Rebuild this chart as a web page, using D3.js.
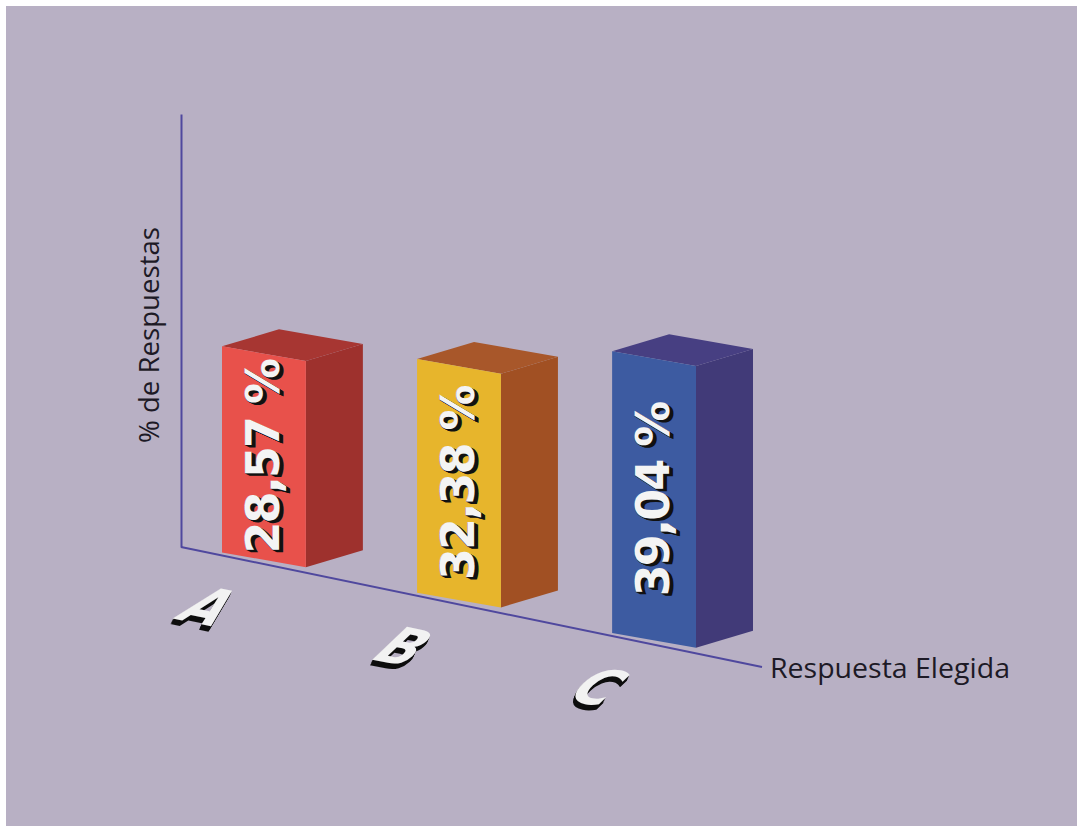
<!DOCTYPE html>
<html>
<head>
<meta charset="utf-8">
<script src="https://cdn.jsdelivr.net/npm/d3@7/dist/d3.min.js"></script>
<style>
  html, body { margin: 0; padding: 0; background: #ffffff; }
  svg { display: block; }
</style>
</head>
<body>
<svg id="chart" width="1083" height="832"></svg>
<script>
// Answer shares per option
const categories = ["A", "B", "C"];
const values = [28.57, 32.38, 39.04];
const valueLabels = ["28,57 %", "32,38 %", "39,04 %"];
const frontColors = ["#e8514b", "#e7b52c", "#3d5ba1"];
const sideColors = ["#9e312d", "#a15023", "#413a78"];
const topColors = ["#a73632", "#a8572a", "#473f82"];
const yTitle = "% de Respuestas";
const xTitle = "Respuesta Elegida";

const W = 1083, H = 832;
const svg = d3.select("#chart");

// canvas with a thin white frame
svg.append("rect").attr("x", 6).attr("y", 6).attr("width", W - 12).attr("height", H - 12)
  .attr("fill", "#b8b0c4");

// axis geometry: vertical axis up from the origin, ground axis slanting to the right
const origin = { x: 181, y: 547 };
const axisEnd = { x: 762, y: 667 };
const groundSlope = (axisEnd.y - origin.y) / (axisEnd.x - origin.x);
const groundY = x => origin.y + (x - origin.x) * groundSlope;

const yScale = d3.scaleLinear().domain([0, 60]).range([origin.y, 114]);
const xBand = d3.scaleBand().domain(categories).range([222, 696]).paddingInner(0.57).paddingOuter(0);

const axisColor = "#4f489e";

// vertical axis (domain line only)
const yAxisG = svg.append("g")
  .attr("transform", `translate(${origin.x},0)`)
  .call(d3.axisLeft(yScale).tickValues([]).tickSizeOuter(0));
yAxisG.select(".domain").attr("stroke", axisColor).attr("stroke-width", 2);

// ground axis
svg.append("line")
  .attr("x1", origin.x).attr("y1", origin.y)
  .attr("x2", axisEnd.x).attr("y2", axisEnd.y)
  .attr("stroke", axisColor).attr("stroke-width", 2);

// oblique box projection
const faceSlope = 0.175;            // drop of the front face along its width
const depth = { x: 57, y: -17 };   // receding edge of each box
const lift = -3;                    // front corner sits just above the axis

const data = categories.map((c, i) => ({
  cat: c, value: values[i], label: valueLabels[i],
  front: frontColors[i], side: sideColors[i], top: topColors[i]
}));

const pts = arr => arr.map(p => p.join(",")).join(" ");

const bars = svg.append("g").selectAll("g").data(data).join("g");

bars.each(function (d) {
  const g = d3.select(this);
  const bw = xBand.bandwidth();
  const x0 = xBand(d.cat);
  const y0 = groundY(x0) + lift;
  const x1 = x0 + bw, y1 = y0 + bw * faceSlope;
  const h = yScale(0) - yScale(d.value);

  const fl = [x0, y0], fr = [x1, y1];
  const flt = [x0, y0 - h], frt = [x1, y1 - h];
  const br = [x1 + depth.x, y1 + depth.y], brt = [x1 + depth.x, y1 + depth.y - h];
  const blt = [x0 + depth.x, y0 + depth.y - h];

  g.append("polygon").attr("points", pts([fr, br, brt, frt])).attr("fill", d.side);
  g.append("polygon").attr("points", pts([flt, frt, brt, blt])).attr("fill", d.top);
  g.append("polygon").attr("points", pts([fl, fr, frt, flt])).attr("fill", d.front);

  // value label, running up the front face with an extruded shadow
  const cx = x0 + bw / 2;
  const cy = (y0 + y1) / 2 - h / 2;
  const label = g.append("g");
  const drawLabel = (dx, dy, fill) => label.append("text")
    .attr("transform", `translate(${cx - 2 + dx},${cy + dy}) rotate(-90)`)
    .attr("text-anchor", "middle").attr("dy", "0.36em")
    .attr("font-family", "DejaVu Sans").attr("font-weight", "bold").attr("font-size", 46)
    .attr("letter-spacing", -2)
    .attr("fill", fill).text(d.label);
  [5, 4, 3, 2, 1].forEach(i => drawLabel(0.8 * i, 0.5 * i, "#111111"));
  drawLabel(0, 0, "#f4f4f4");

  // category letter lying flat on the ground in front of the box
  const lx = x0 + bw / 2 - 55;
  const ly = groundY(x0 + bw / 2) + 42;
  const letter = g.append("g");
  const drawLetter = (dx, dy, fill) => letter.append("text")
    .attr("transform", `translate(${lx + dx},${ly + dy}) matrix(1.0,0.2,-0.95,0.9,0,0)`)
    .attr("text-anchor", "middle").attr("dy", "0.36em")
    .attr("font-family", "DejaVu Sans").attr("font-weight", "bold").attr("font-size", 50)
    .attr("fill", fill).text(d.cat);
  [5, 4, 3, 2, 1].forEach(i => drawLetter(-0.5 * i, 1.1 * i, "#0e0e0e"));
  drawLetter(0, 0, "#f2f2f2");
});

// axis titles
svg.append("text")
  .attr("transform", `translate(159,335) rotate(-90)`)
  .attr("text-anchor", "middle")
  .attr("font-family", "Open Sans").attr("font-size", 28)
  .attr("textLength", 216).attr("lengthAdjust", "spacingAndGlyphs")
  .attr("fill", "#1d1a26").text(yTitle);

svg.append("text")
  .attr("x", 770).attr("y", 678)
  .attr("font-family", "Open Sans").attr("font-size", 28)
  .attr("textLength", 240).attr("lengthAdjust", "spacingAndGlyphs")
  .attr("fill", "#1d1a26").text(xTitle);
</script>
</body>
</html>
